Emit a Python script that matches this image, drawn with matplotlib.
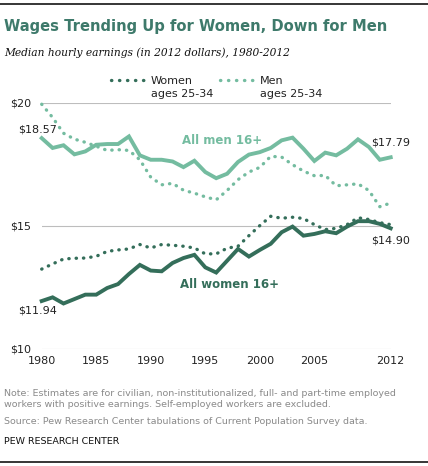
"""Wages trending up for women, down for men (Pew style line chart)."""

import matplotlib
matplotlib.use("Agg")
import matplotlib.pyplot as plt
from matplotlib.lines import Line2D

YEARS = list(range(1980, 2013))

# median hourly earnings, 2012 dollars
MEN_ALL = [18.57, 18.17, 18.28, 17.91, 18.03, 18.30, 18.33, 18.33, 18.64, 17.87,
           17.69, 17.69, 17.62, 17.39, 17.65, 17.19, 16.94, 17.12, 17.60, 17.90,
           18.00, 18.17, 18.48, 18.59, 18.14, 17.64, 17.98, 17.87, 18.14, 18.52,
           18.21, 17.69, 17.79]
MEN_YOUNG = [19.95, 19.41, 18.77, 18.53, 18.40, 18.24, 18.07, 18.10, 18.07, 17.69,
             16.98, 16.67, 16.73, 16.45, 16.33, 16.18, 16.06, 16.44, 16.88, 17.19,
             17.38, 17.83, 17.80, 17.49, 17.23, 17.04, 17.05, 16.63, 16.67, 16.71,
             16.44, 15.78, 15.93]
WOMEN_ALL = [11.94, 12.09, 11.84, 12.02, 12.20, 12.20, 12.47, 12.63, 13.04, 13.41,
             13.18, 13.15, 13.49, 13.69, 13.82, 13.31, 13.10, 13.58, 14.06, 13.75,
             14.02, 14.27, 14.74, 14.97, 14.60, 14.67, 14.78, 14.70, 14.97, 15.19,
             15.19, 15.08, 14.90]
WOMEN_YOUNG = [13.24, 13.45, 13.65, 13.68, 13.69, 13.76, 13.96, 14.02, 14.06, 14.24,
               14.10, 14.24, 14.21, 14.17, 14.10, 13.86, 13.86, 14.09, 14.17, 14.60,
               15.01, 15.39, 15.31, 15.35, 15.30, 15.05, 14.85, 14.90, 15.05, 15.33,
               15.26, 15.13, 15.05]

XTICKS = [1980, 1985, 1990, 1995, 2000, 2005, 2012]
YTICKS = [10, 15, 20]

LIGHT = "#74bca0"
DARK = "#346e5a"
TITLE_C = "#3e7a6b"
W, H = 428, 466

fig = plt.figure(figsize=(W / 100, H / 100), dpi=100)
ax = fig.add_axes([41.7 / W, 1 - 348.7 / H, 349 / W, 245.7 / H])

dots = dict(linestyle=(0, (0.1, 2.1)), lw=2.4, dash_capstyle="round", clip_on=False)
solid = dict(lw=2.8, solid_joinstyle="miter", clip_on=False)

ax.plot(YEARS, MEN_YOUNG, color=LIGHT, **dots)
ax.plot(YEARS, WOMEN_YOUNG, color=DARK, **dots)
ax.plot(YEARS, MEN_ALL, color=LIGHT, **solid)
ax.plot(YEARS, WOMEN_ALL, color=DARK, **solid)

ax.set_xlim(1980, 2012)
ax.set_ylim(10, 20)
ax.set_xticks(XTICKS, [str(y) for y in XTICKS])
ax.set_yticks(YTICKS, [f"${v}" for v in YTICKS])
ax.tick_params(length=0, labelsize=8, colors="#222222")
ax.tick_params(axis="y", pad=7.5)
ax.tick_params(axis="x", pad=5.5)
for s in ax.spines.values():
    s.set_visible(False)
ax.grid(axis="y", color="#bdbdbd", lw=0.8)
ax.set_axisbelow(True)

# end-point value labels
lab = dict(textcoords="offset points", fontsize=8, color="#222222", va="center")
ax.annotate(f"${MEN_ALL[0]:.2f}", (YEARS[0], MEN_ALL[0]), xytext=(11, 6), ha="right", **lab)
ax.annotate(f"${WOMEN_ALL[0]:.2f}", (YEARS[0], WOMEN_ALL[0]), xytext=(11, -6.5), ha="right", **lab)
ax.annotate(f"${MEN_ALL[-1]:.2f}", (YEARS[-1], MEN_ALL[-1]), xytext=(-14, 10.5), ha="left", **lab)
ax.annotate(f"${WOMEN_ALL[-1]:.2f}", (YEARS[-1], WOMEN_ALL[-1]), xytext=(-14, -8.5), ha="left", **lab)

ax.text(1996.5, 18.48, "All men 16+", color=LIGHT, fontsize=8.5, fontweight="bold",
        ha="center", va="center")
ax.text(1997.2, 12.6, "All women 16+", color=DARK, fontsize=8.5, fontweight="bold",
        ha="center", va="center")

# legend: dotted samples with two-line labels
handles = [Line2D([], [], color=DARK, linestyle=(0, (0.1, 2.3)), lw=2.4, dash_capstyle="round"),
           Line2D([], [], color=LIGHT, linestyle=(0, (0.1, 2.3)), lw=2.4, dash_capstyle="round")]
leg = fig.legend(handles, ["Women", "Men"], ncol=2, frameon=False, fontsize=8,
                 loc="center left", bbox_to_anchor=(111 / W, 1 - 81 / H),
                 handlelength=3.3, handletextpad=0.3, columnspacing=2.4, borderpad=0,
                 borderaxespad=0)
for t in leg.get_texts():
    t.set_color("#222222")
fig.canvas.draw()
for t in leg.get_texts():
    bb = t.get_window_extent()
    fig.text(bb.x0 / W, (bb.y0 + bb.y1) / 2 / H - 13 / H, "ages 25-34", fontsize=8,
             color="#222222", va="center", ha="left")

# title block
fig.text(4 / W, 1 - 27 / H, "Wages Trending Up for Women, Down for Men", fontsize=10.6,
         fontweight="bold", color=TITLE_C, va="center", ha="left")
fig.text(4 / W, 1 - 53 / H, "Median hourly earnings (in 2012 dollars), 1980-2012",
         fontsize=7.7, style="italic", family="DejaVu Serif", color="#111111",
         va="center", ha="left")

note = ("Note: Estimates are for civilian, non-institutionalized, full- and part-time employed\n"
        "workers with positive earnings. Self-employed workers are excluded.")
fig.text(4 / W, 1 - 399 / H, note, fontsize=6.8, color="#8a8a8a", va="center", ha="left",
         linespacing=1.15)
fig.text(4 / W, 1 - 422 / H,
         "Source: Pew Research Center tabulations of Current Population Survey data.",
         fontsize=6.8, color="#8a8a8a", va="center", ha="left")
fig.text(4 / W, 1 - 441 / H, "PEW RESEARCH CENTER", fontsize=6.8, color="#111111",
         va="center", ha="left")

fig.add_artist(Line2D([0, 1], [1 - 4 / H, 1 - 4 / H], color="black", lw=1.1,
                      transform=fig.transFigure))
fig.add_artist(Line2D([0, 1], [1 - 462 / H, 1 - 462 / H], color="black", lw=1.1,
                      transform=fig.transFigure))

fig.savefig("out.png", dpi=100)
